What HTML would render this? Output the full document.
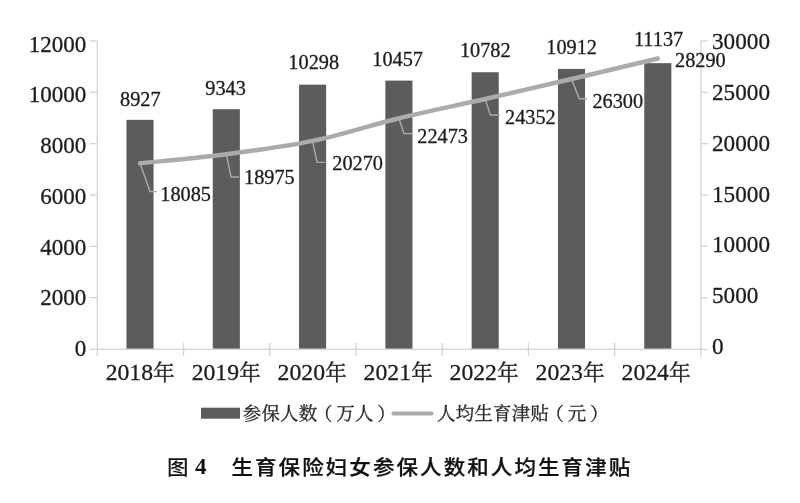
<!DOCTYPE html>
<html lang="zh-CN"><head><meta charset="utf-8"><title>图 4 生育保险妇女参保人数和人均生育津贴</title>
<style>html,body{margin:0;padding:0;background:#fff}body{width:800px;height:503px;overflow:hidden}svg{display:block}</style></head>
<body>
<svg width="800" height="503" viewBox="0 0 800 503">
<rect width="800" height="503" fill="#fff"/>
<g stroke="#d4d4d4" stroke-width="1.3" fill="none">
<path d="M97.3 41.0V356.0"/>
<path d="M89.8 349.4H707.9"/>
<path d="M700.9 41.0V356.5"/>
<path d="M89.8 41.00H97.3"/>
<path d="M700.9 41.00H707.9"/>
<path d="M89.8 92.33H97.3"/>
<path d="M700.9 92.33H707.9"/>
<path d="M89.8 143.67H97.3"/>
<path d="M700.9 143.67H707.9"/>
<path d="M89.8 195.00H97.3"/>
<path d="M700.9 195.00H707.9"/>
<path d="M89.8 246.33H97.3"/>
<path d="M700.9 246.33H707.9"/>
<path d="M89.8 297.67H97.3"/>
<path d="M700.9 297.67H707.9"/>
<path d="M183.53 343.0V356.0"/>
<path d="M269.76 343.0V356.0"/>
<path d="M355.99 343.0V356.0"/>
<path d="M442.21 343.0V356.0"/>
<path d="M528.44 343.0V356.0"/>
<path d="M614.67 343.0V356.0"/>
</g>
<g fill="#5c5c5e">
<rect x="126.45" y="119.87" width="27.1" height="228.73"/>
<rect x="212.75" y="109.20" width="27.1" height="239.40"/>
<rect x="299.05" y="84.68" width="27.1" height="263.92"/>
<rect x="385.35" y="80.60" width="27.1" height="268.00"/>
<rect x="471.65" y="72.26" width="27.1" height="276.34"/>
<rect x="557.95" y="68.93" width="27.1" height="279.67"/>
<rect x="644.25" y="63.15" width="27.1" height="285.45"/>
</g>
<g stroke="#ababab" stroke-width="1.4" fill="none" stroke-linejoin="miter">
<path d="M140.00 163.33L150 191.6H157"/>
<path d="M226.30 154.19L231 177H239"/>
<path d="M312.60 140.89L317 162.4H325"/>
<path d="M398.90 118.28L404 133.6H412"/>
<path d="M485.20 98.99L490.4 115H500"/>
<path d="M571.50 78.99L579.3 98.8H587.3"/>
</g>
<path d="M140.00 163.33C154.38 161.80 197.53 157.93 226.30 154.19C255.07 150.45 283.83 146.88 312.60 140.89C341.37 134.91 370.13 125.26 398.90 118.28C427.67 111.29 456.43 105.53 485.20 98.99C513.97 92.44 542.73 85.73 571.50 78.99C600.27 72.25 643.42 61.96 657.80 58.56" stroke="#ababab" stroke-width="4.5" fill="none" stroke-linecap="round" stroke-linejoin="round"/>
<g font-family='"Liberation Serif","Noto Serif CJK SC",serif' fill="#1c1c1c" stroke="#1c1c1c" stroke-width="0.3">
<g font-size="23" text-anchor="end">
<text x="86.2" y="51.50">12000</text>
<text x="86.2" y="102.25">10000</text>
<text x="86.2" y="153.00">8000</text>
<text x="86.2" y="203.75">6000</text>
<text x="86.2" y="254.50">4000</text>
<text x="86.2" y="305.25">2000</text>
<text x="86.2" y="356.00">0</text>
</g>
<g font-size="23.2" text-anchor="start">
<text x="712" y="49.40">30000</text>
<text x="712" y="100.17">25000</text>
<text x="712" y="150.94">20000</text>
<text x="712" y="201.71">15000</text>
<text x="712" y="252.48">10000</text>
<text x="712" y="303.25">5000</text>
<text x="712" y="354.02">0</text>
</g>
<g font-size="23.7" text-anchor="middle">
<text x="140.30" y="380">2018<tspan font-size="21.9">年</tspan></text>
<text x="226.28" y="380">2019<tspan font-size="21.9">年</tspan></text>
<text x="312.26" y="380">2020<tspan font-size="21.9">年</tspan></text>
<text x="398.24" y="380">2021<tspan font-size="21.9">年</tspan></text>
<text x="484.22" y="380">2022<tspan font-size="21.9">年</tspan></text>
<text x="570.20" y="380">2023<tspan font-size="21.9">年</tspan></text>
<text x="656.18" y="380">2024<tspan font-size="21.9">年</tspan></text>
</g>
<g font-size="20.3" text-anchor="middle">
<text x="140.3" y="105.6">8927</text>
<text x="225.6" y="95.0">9343</text>
<text x="313.7" y="69.3">10298</text>
<text x="397.6" y="66">10457</text>
<text x="485.3" y="57.2">10782</text>
<text x="571.6" y="54.2">10912</text>
<text x="658.6" y="45.7">11137</text>
</g>
<g font-size="20.3" text-anchor="start">
<text x="160.3" y="200.5">18085</text>
<text x="244" y="183.5">18975</text>
<text x="332.3" y="170.4">20270</text>
<text x="417.3" y="142.8">22473</text>
<text x="505" y="123.6">24352</text>
<text x="592.4" y="107.8">26300</text>
<text x="675" y="66.6">28290</text>
</g>
<text x="251.90 270.60 289.30 308.00 323.10 345.40 364.10 386.50" y="420.3" font-size="18.4" text-anchor="middle" fill="#2a2a2a">参保人数（万人）</text>
<text x="446.30 464.96 483.62 502.28 520.94 539.60 554.66 576.92 599.28" y="420.3" font-size="18.4" text-anchor="middle" fill="#2a2a2a">人均生育津贴（元）</text>
</g>
<rect x="201" y="407.7" width="39" height="11" fill="#5c5c5e"/>
<path d="M393.4 413.5H431.7" stroke="#ababab" stroke-width="3.8" stroke-linecap="round"/>
<text transform="translate(167.0,475.0) scale(1.035,1)" font-size="20.8" font-weight="500" fill="#111" font-family='"Liberation Sans","Noto Sans CJK SC",sans-serif'>图</text>
<text x="195" y="474.3" font-size="23" font-weight="700" fill="#111" font-family='"Liberation Serif","Noto Serif CJK SC",serif'>4</text>
<text transform="translate(231.4,475.0) scale(1.035,1)" font-size="20.8" font-weight="500" letter-spacing="2.0" stroke="#111" stroke-width="0.25" fill="#111" font-family='"Liberation Sans","Noto Sans CJK SC",sans-serif'>生育保险妇女参保人数和人均生育津贴</text>
</svg>
</body></html>
